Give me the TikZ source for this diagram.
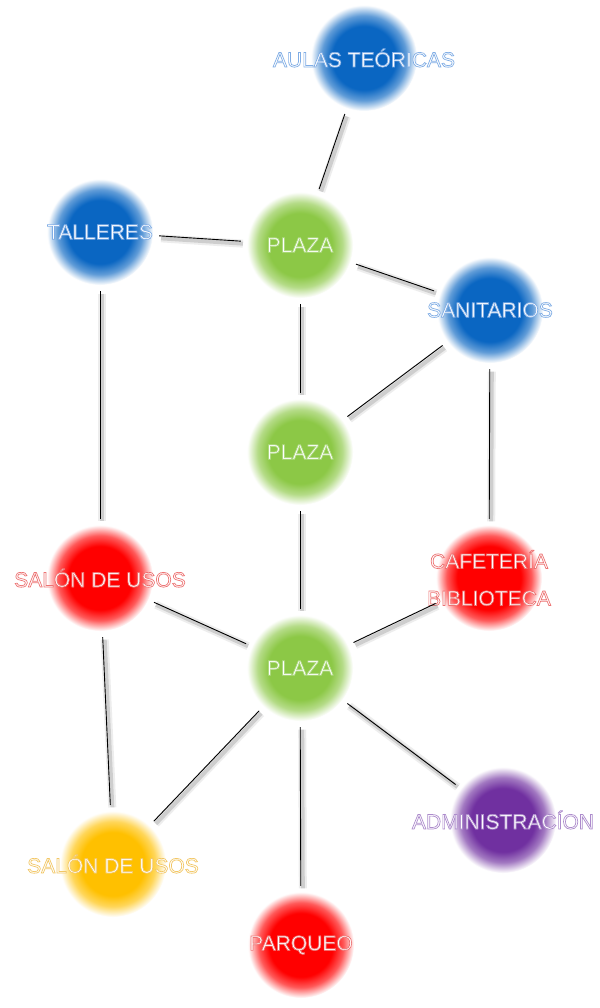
\documentclass[tikz,border=0pt]{standalone}
\usepackage{fontspec}
\setmainfont{Liberation Sans}
\usepackage{xcolor}
\usetikzlibrary{positioning}

\definecolor{hubblue}{RGB}{10,102,194}
\definecolor{hubgreen}{RGB}{140,200,70}
\definecolor{hubred}{RGB}{255,0,0}
\definecolor{hubyellow}{RGB}{255,192,0}
\definecolor{hubpurple}{RGB}{112,48,160}

% soft blobs: solid core fading to white
\pgfdeclareradialshading{blobblue}{\pgfpointorigin}{color(0bp)=(hubblue); color(15bp)=(hubblue); color(20bp)=(hubblue!65!white); color(25bp)=(white); color(50bp)=(white)}
\pgfdeclareradialshading{blobgreen}{\pgfpointorigin}{color(0bp)=(hubgreen); color(15bp)=(hubgreen); color(20bp)=(hubgreen!65!white); color(25bp)=(white); color(50bp)=(white)}
\pgfdeclareradialshading{blobred}{\pgfpointorigin}{color(0bp)=(hubred); color(15bp)=(hubred); color(20bp)=(hubred!65!white); color(25bp)=(white); color(50bp)=(white)}
\pgfdeclareradialshading{blobyellow}{\pgfpointorigin}{color(0bp)=(hubyellow); color(15bp)=(hubyellow); color(20bp)=(hubyellow!65!white); color(25bp)=(white); color(50bp)=(white)}
\pgfdeclareradialshading{blobpurple}{\pgfpointorigin}{color(0bp)=(hubpurple); color(15bp)=(hubpurple); color(20bp)=(hubpurple!65!white); color(25bp)=(white); color(50bp)=(white)}

% white letters with a thin coloured rim (stroke, then fill on top)
\newcommand\rimtext[2]{%
  \makebox[0pt]{\color{white}\special{pdf:literal direct 2 Tr 0.7 w #1 RG}#2\special{pdf:literal direct 0 Tr}}}

\begin{document}
\begin{tikzpicture}[
    x=1pt,y=-1pt,
    hub/.style={circle,minimum size=106pt,inner sep=0pt,shade,align=center,
      font=\fontsize{21}{25}\selectfont},
    bluehub/.style={hub,shading=blobblue},
    greenhub/.style={hub,shading=blobgreen},
    redhub/.style={hub,shading=blobred},
    yellowhub/.style={hub,shading=blobyellow},
    purplehub/.style={hub,shading=blobpurple},
    link/.style={draw=black,line width=.9pt,shorten >=6pt,shorten <=6pt,
      preaction={draw=black!45,line width=8pt,opacity=.15,
        transform canvas={shift={(2pt,-2.5pt)}}},
      preaction={draw=black!50,line width=4pt,opacity=.28,
        transform canvas={shift={(2pt,-2.5pt)}}}}
  ]
    \useasboundingbox[fill=white] (0,0) rectangle (599,1008);

    \node[bluehub] (aulas) at (364,58) {\rimtext{0.5 0.68 0.9}{AULAS TEÓRICAS}};
    \node[bluehub] (talleres) at (100,232) {\rimtext{0.5 0.68 0.9}{TALLERES}};
    \node[greenhub] (plazaA) at (300,245) {\rimtext{0.68 0.85 0.5}{PLAZA}};
    \node[bluehub] (sanit) at (490,310) {\rimtext{0.5 0.68 0.9}{SANITARIOS}};
    \node[greenhub] (plazaB) at (300,452) {\rimtext{0.68 0.85 0.5}{PLAZA}};
    \node[redhub] (salonR) at (100,578) {\rimtext{0.93 0.45 0.45}{SALÓN DE USOS}};
    \node[redhub] (cafe) at (489,578) {\rimtext{0.93 0.45 0.45}{CAFETERÍA}\\[12pt]\rimtext{0.93 0.45 0.45}{BIBLIOTECA}};
    \node[greenhub] (plazaC) at (300,668) {\rimtext{0.68 0.85 0.5}{PLAZA}};
    \node[yellowhub] (salonY) at (113,864) {\rimtext{0.95 0.78 0.4}{SALÓN DE USOS}};
    \node[purplehub] (admin) at (503,820) {\rimtext{0.68 0.55 0.8}{ADMINISTRACÍON}};
    \node[redhub] (parqueo) at (301,945) {\rimtext{0.93 0.45 0.45}{PARQUEO}};

    \draw[link] (aulas) -- (plazaA);
    \draw[link] (talleres) -- (plazaA);
    \draw[link] (plazaA) -- (sanit);
    \draw[link] (plazaA) -- (plazaB);
    \draw[link] (sanit) -- (plazaB);
    \draw[link] (talleres) -- (salonR);
    \draw[link] (sanit) -- (cafe);
    \draw[link] (plazaB) -- (plazaC);
    \draw[link] (salonR) -- (plazaC);
    \draw[link] (cafe) -- (plazaC);
    \draw[link] (salonR) -- (salonY);
    \draw[link] (plazaC) -- (salonY);
    \draw[link] (plazaC) -- (parqueo);
    \draw[link] (plazaC) -- (admin);
  \end{tikzpicture}
\end{document}
